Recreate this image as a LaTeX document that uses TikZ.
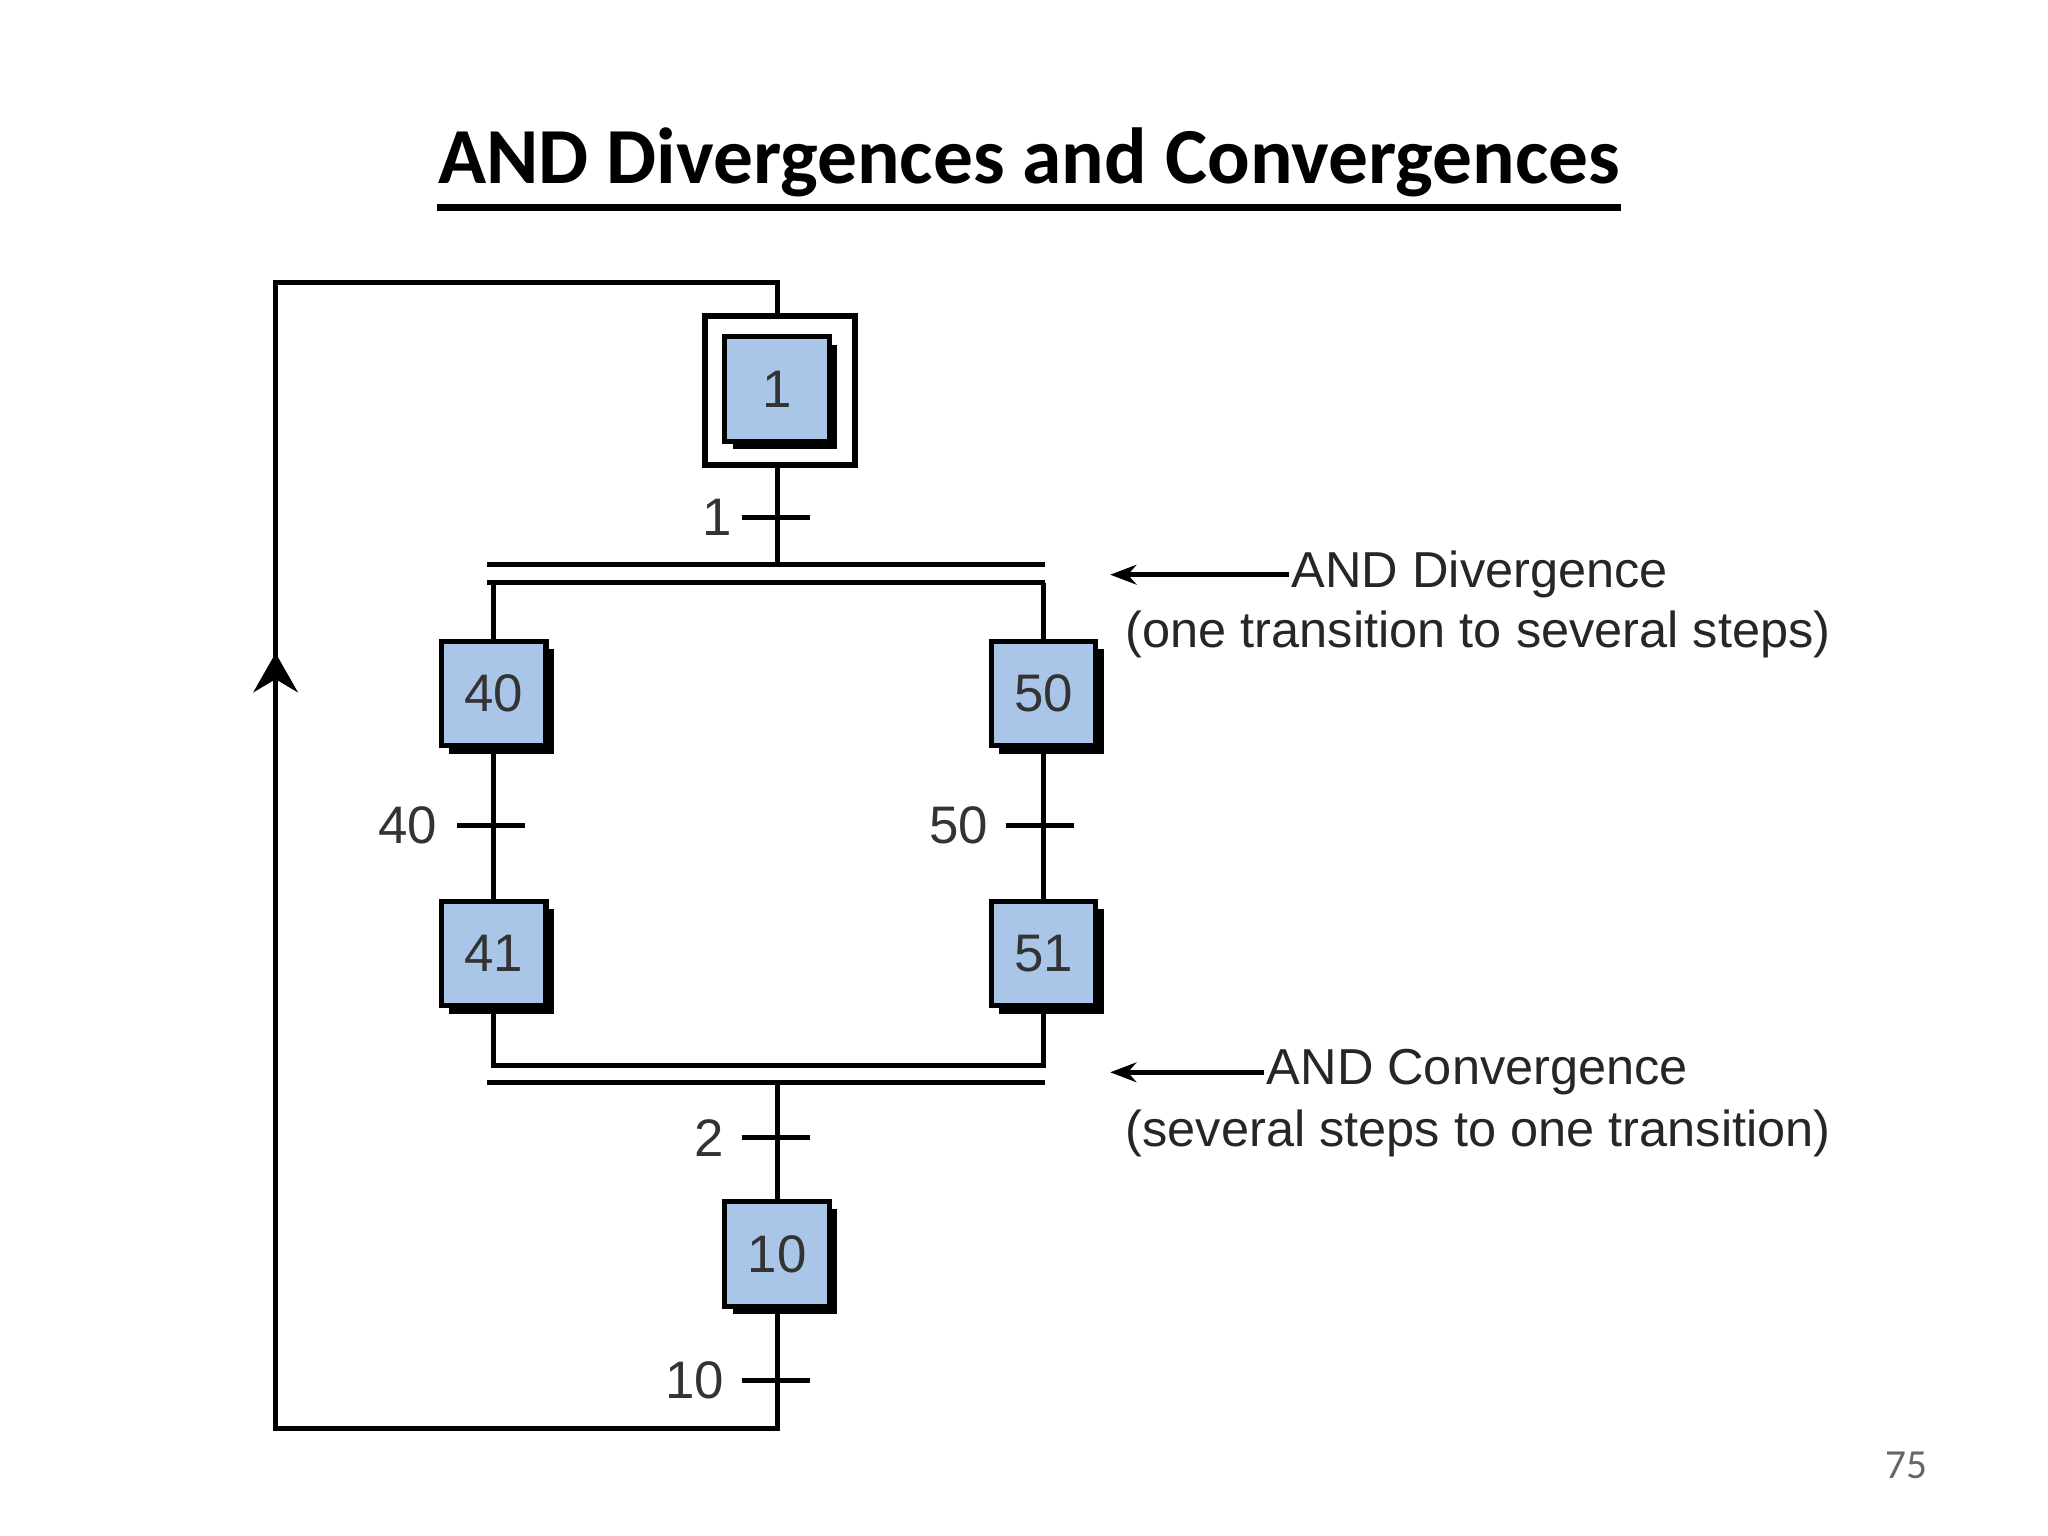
\documentclass[tikz,border=0pt]{standalone}
\usepackage{fontspec}
\setmainfont{Liberation Sans}
\newfontfamily\titlefont{Carlito}
\usetikzlibrary{shadows,arrows.meta}
\definecolor{stepblue}{HTML}{A9C6E8}
\begin{document}
\begin{tikzpicture}[x=0.01cm,y=-0.01cm,line width=1.1pt,
  sfcstep/.style={draw=black,fill=stepblue,minimum size=0.8cm,inner sep=0pt,
    font=\fontsize{11.5}{11.5}\selectfont,text=black!80,
    drop shadow={shadow xshift=0.06cm,shadow yshift=-0.06cm,fill=black,opacity=1}},
  lbl/.style={font=\fontsize{11.5}{11.5}\selectfont,text=black!80,inner sep=1pt},
  note/.style={font=\fontsize{11}{13}\selectfont,anchor=west,text=black!85,inner sep=0pt}]
\useasboundingbox (0,0) rectangle (1568,1176);
% title
\node[font=\titlefont\bfseries\fontsize{17.3}{17.3}\selectfont] (title) at (788,124) {AND Divergences and Convergences};
\draw[line width=1.5pt] (title.south west) ++(0.13cm,0.05cm) -- ([xshift=-0.13cm,yshift=0.05cm]title.south east);
% steps
\node[sfcstep] (s1) at (595,298) {1};
\node[draw,minimum width=1.15cm,minimum height=1.14cm,line width=1.3pt] (s1b) at (597,299) {};
\node[sfcstep] (s40) at (378,531) {40};
\node[sfcstep] (s50) at (799,531) {50};
\node[sfcstep] (s41) at (378,730) {41};
\node[sfcstep] (s51) at (799,730) {51};
\node[sfcstep] (s10) at (595,960) {10};
% loop
\coordinate (top) at (595,216);
\coordinate (tl) at (211,216);
\coordinate (bl) at (211,1094);
\coordinate (bot) at (595,1094);
\draw (s1b.north -| top) -- (top) -- (tl) -- (bl) -- (bot) -- (s10.south);
\draw[-{Stealth[length=0.3cm,width=0.34cm,inset=0.1cm]}] (211,540) -- (211,500);
% divergence
\coordinate (dv) at (595,432);
\draw (s1b.south -| top) -- (dv);
\draw (373,432) -- (800,432);
\draw (373,446) -- (800,446);
\draw (s40.north |- 0,446) -- (s40.north);
\draw (s50.north |- 0,446) -- (s50.north);
\draw (s40) -- (s41);
\draw (s50) -- (s51);
% convergence
\draw (s41.south) -- (s41.south |- 0,816) -- (s51.south |- 0,816) -- (s51.south);
\draw (373,829) -- (800,829);
\draw (s10.north |- 0,829) -- (s10.north);
% transitions
\draw (568,396) -- (620,396); \node[lbl,anchor=east] (t1) at (566,396) {1};
\draw (350,632) -- (402,632); \node[lbl,anchor=east] (t40) at (340,632) {40};
\draw (770,632) -- (822,632); \node[lbl,anchor=east] (t50) at (762,632) {50};
\draw (568,871) -- (620,871); \node[lbl,anchor=east] (t2) at (560,871) {2};
\draw (568,1057) -- (620,1057); \node[lbl,anchor=east] (t10) at (560,1057) {10};
% notes
\node[note] (nd) at (987,440) {AND Divergence};
\node[note] (nd2) at (860,486) {(one transition to several steps)};
\draw[-{Stealth[length=0.2cm]}] (nd.west) -- (850,440);
\node[note] (nc) at (968,821) {AND Convergence};
\node[note] (nc2) at (860,868) {(several steps to one transition)};
\draw[-{Stealth[length=0.2cm]}] (nc.west) -- (850,821);
\node[font=\titlefont\fontsize{9}{9}\selectfont,text=black!60] (pg) at (1460,1122) {75};
\end{tikzpicture}
\end{document}
